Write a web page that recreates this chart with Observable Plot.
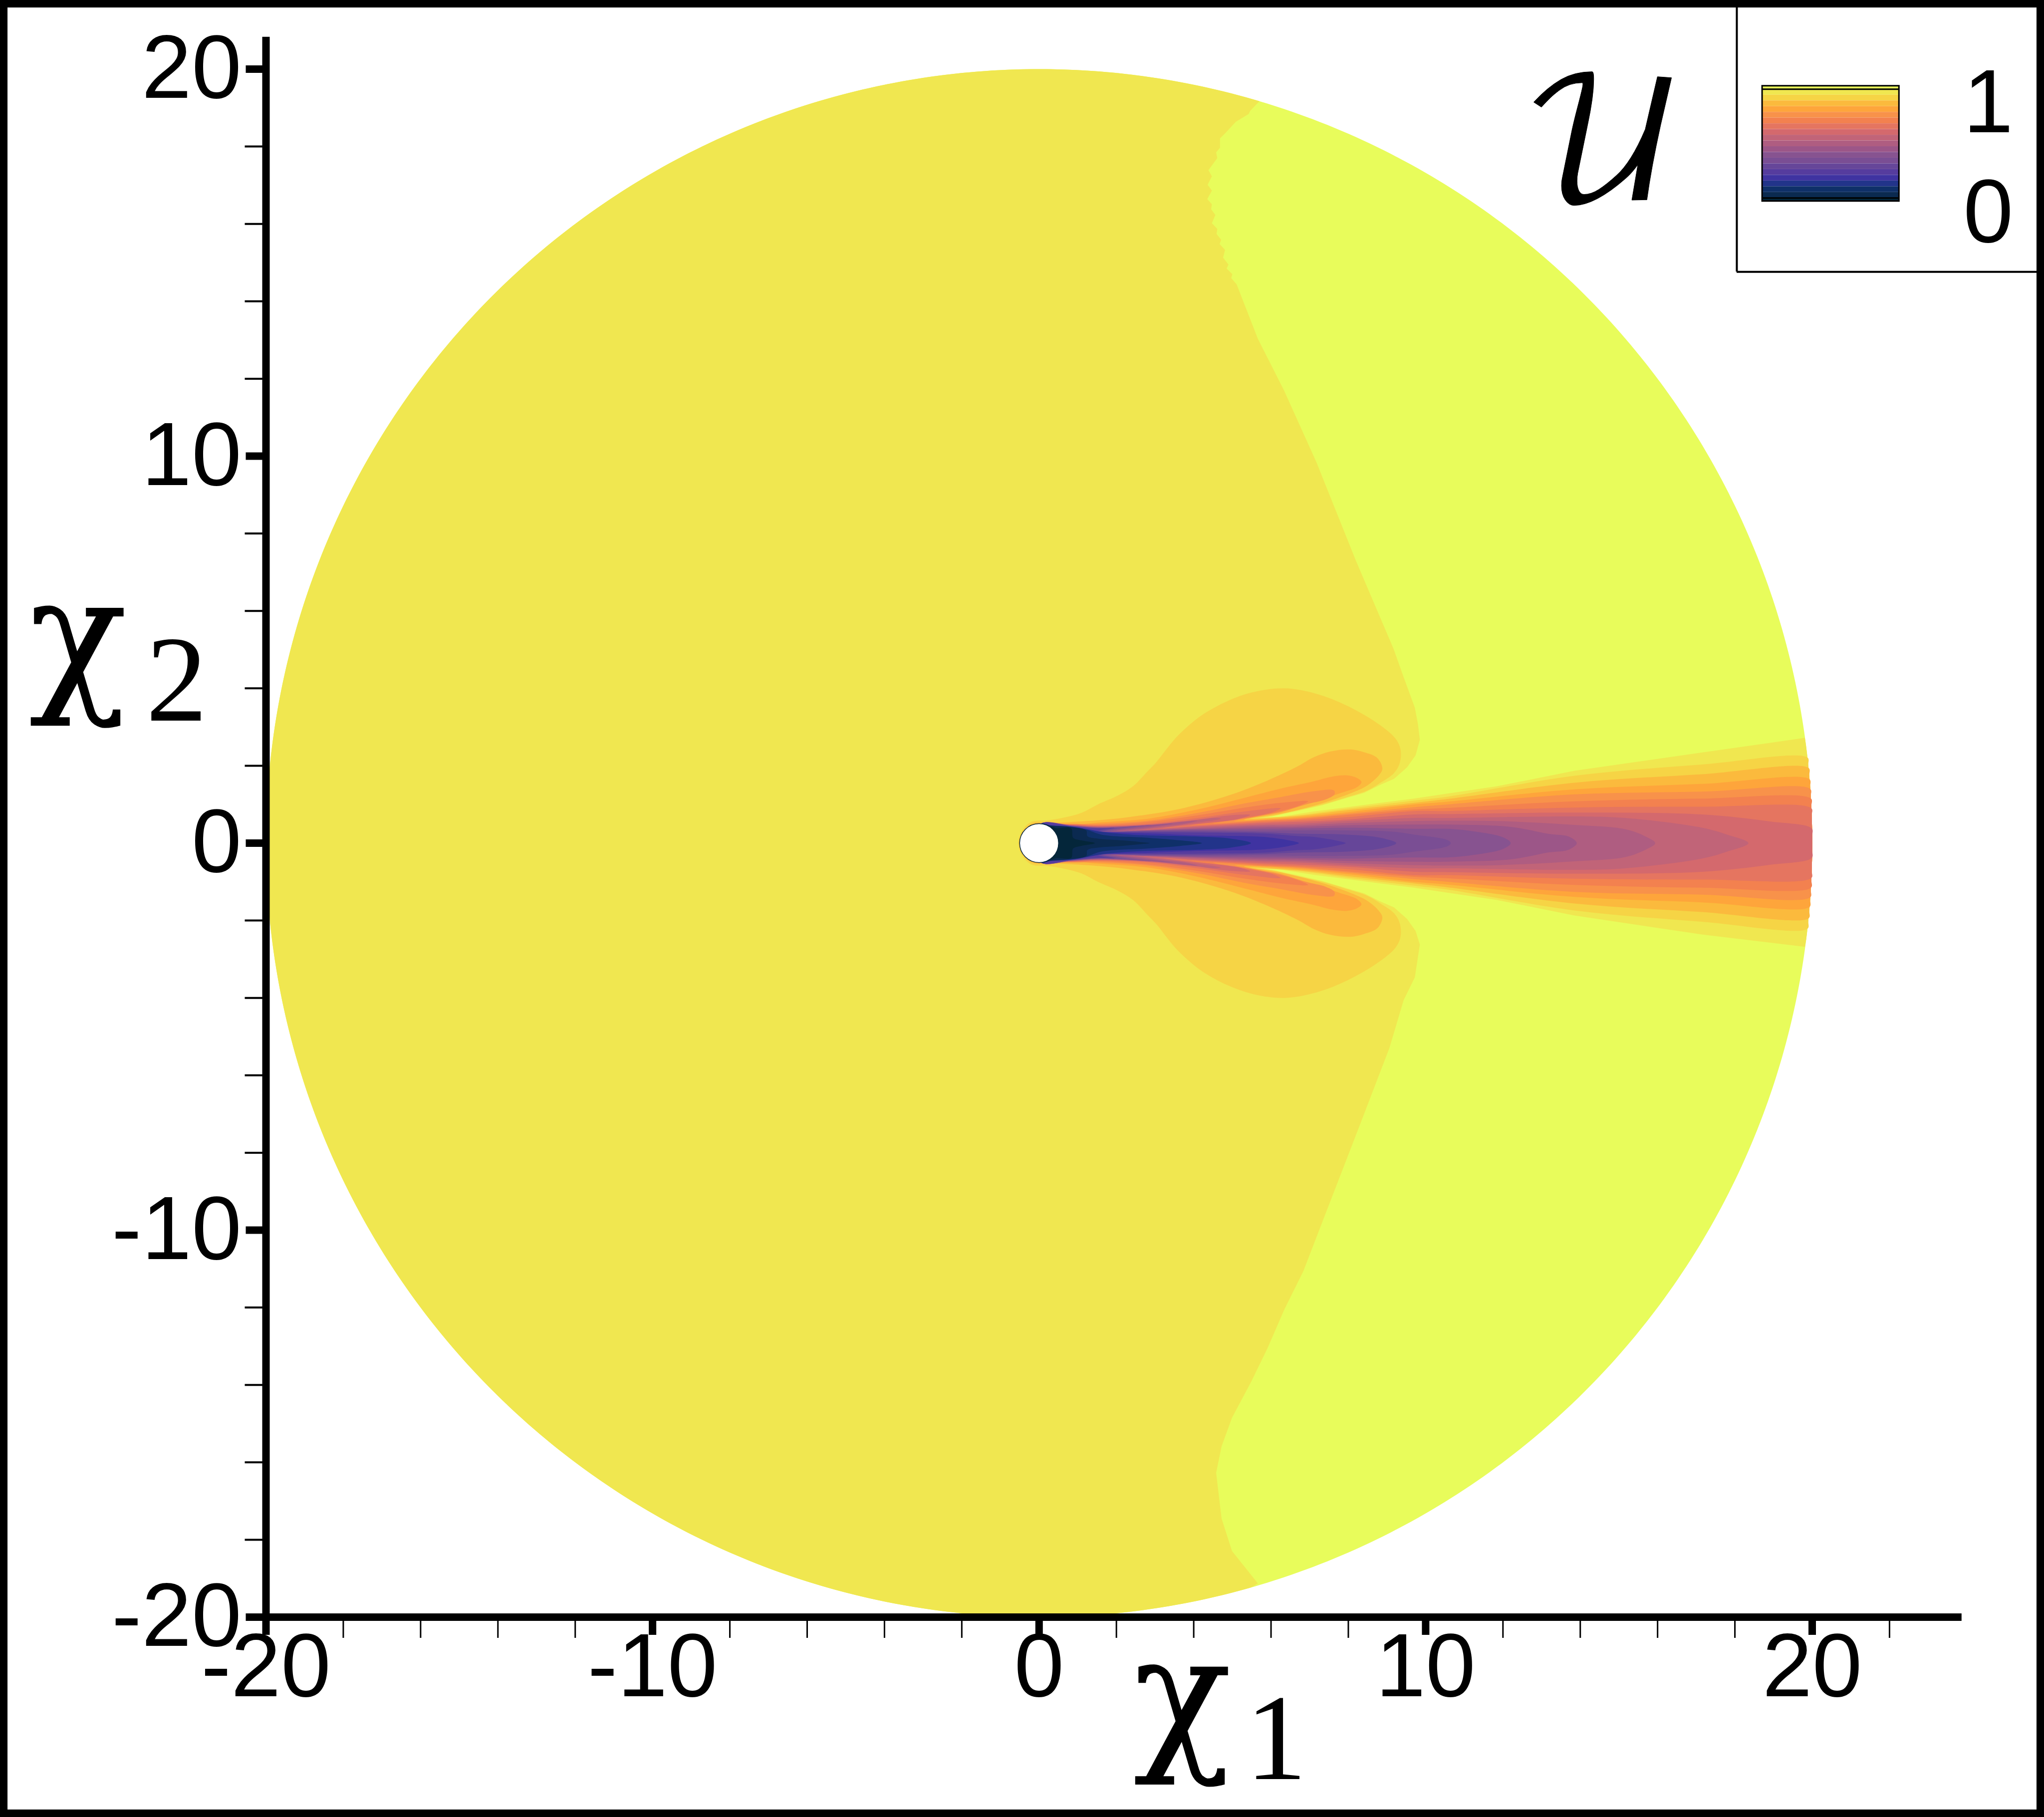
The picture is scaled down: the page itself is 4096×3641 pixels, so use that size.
<!DOCTYPE html>
<html>
<head>
<meta charset="utf-8">
<script src="https://cdn.jsdelivr.net/npm/d3@7"></script>
<script src="https://cdn.jsdelivr.net/npm/@observablehq/plot@0.6"></script>
<style>
html,body{margin:0;padding:0;background:#fff}
#chart{position:relative;width:4096px;height:3641px;overflow:hidden}
#chart svg{display:block;max-width:none;background:#fff}
#border{position:absolute;inset:0;border:15px solid #000;box-sizing:border-box;pointer-events:none}
</style>
</head>
<body>
<div id="chart"><div id="border"></div></div>
<script>
// Tick labels
const xMajor = [-20,-10,0,10,20];
const yMajor = [-20,-10,0,10,20];
const xMinor = [-18,-16,-14,-12,-8,-6,-4,-2,2,4,6,8,12,14,16,18,22];
const yMinor = [-18,-16,-14,-12,-8,-6,-4,-2,2,4,6,8,12,14,16,18];

// Contour colours: level 0 is the highest band of U, level 20 the lowest
const levelColors = ["#E8FC5B","#F0E750","#F6D445","#FBBA3D","#FEA53B","#F8924A","#F3814F","#E57560","#D4696D","#C16478","#AF5D81","#9C5688","#875390","#7A4E94","#664699","#563C9E","#3F33A1","#22348A","#0F3069","#0B2A50","#04263A"];

// Contours, [χ1, χ2] for the upper half
const contour01Upper = [[5.70,19.17],[5.46,18.92],[5.42,18.84],[5.09,18.64],[4.83,18.36],[4.68,18.21],[4.68,17.97],[4.58,17.85],[4.61,17.70],[4.38,17.39],[4.47,17.23],[4.36,17.01],[4.47,16.86],[4.35,16.64],[4.47,16.51],[4.45,16.38],[4.56,16.23],[4.47,16.02],[4.61,15.87],[4.59,15.74],[4.71,15.59],[4.67,15.48],[4.81,15.33],[4.76,15.13],[4.90,14.95],[4.85,14.85],[5.0,14.7],[4.97,14.6],[5.11,14.44],[5.66,13.03],[6.34,11.69],[7.18,9.83],[8.19,7.31],[9.17,5.02],[9.43,4.29],[9.72,3.5],[9.80,3.08],[9.85,2.67],[9.74,2.27],[9.52,1.96],[9.18,1.66],[8.83,1.51],[8.41,1.30],[7.97,1.17],[7.33,.98],[6.68,.83],[6.04,.70],[5.75,.66],[6.25,.68],[6.68,.75],[7.11,.82],[7.97,.93],[8.83,1.04],[9.7,1.15],[10.56,1.28],[11.85,1.47],[13.85,1.87],[17.14,2.34],[19.81,2.72]];
const contour01Lower = [[5.66,-19.13],[4.99,-18.29],[4.72,-17.45],[4.58,-16.27],[4.72,-15.59],[4.99,-14.85],[5.49,-13.91],[5.90,-13.07],[6.34,-12.06],[6.84,-11.05],[7.35,-9.73],[7.85,-8.44],[8.36,-7.12],[9.06,-5.3],[9.43,-4.06],[9.72,-3.47],[9.85,-2.62],[9.74,-2.27],[9.52,-1.96],[9.18,-1.66],[8.83,-1.51],[8.41,-1.30],[7.97,-1.17],[7.33,-.98],[6.68,-.83],[6.04,-.70],[5.75,-.66],[6.25,-.68],[6.68,-.75],[7.11,-.82],[7.97,-.93],[8.83,-1.04],[9.7,-1.15],[10.56,-1.28],[11.85,-1.47],[13.85,-1.87],[17.14,-2.36],[19.81,-2.68]];
const contour02 = [[-.54,0],[-.45,.3],[-.2,.55],[.23,.59],[.6,.65],[1.09,.78],[1.52,1.0],[2.04,1.23],[2.43,1.47],[2.81,1.86],[3.03,2.09],[3.29,2.42],[3.52,2.70],[3.85,3.02],[4.23,3.32],[4.87,3.67],[5.53,3.90],[6.35,4.0],[7.17,3.86],[7.99,3.54],[8.82,3.05],[9.22,2.70],[9.35,2.42],[9.33,2.07],[9.18,1.81],[8.83,1.56],[8.49,1.36],[7.97,1.19],[7.33,1.0],[6.68,.85],[6.04,.70],[5.6,.645],[6.68,.72],[7.97,.89],[9.7,1.10],[10.56,1.2],[13.85,1.74],[17.14,2.03],[19.88,2.21]];
const contour03 = [[-.51,0],[-.42,.3],[-.15,.52],[.23,.52],[1.52,.59],[2.38,.68],[3.67,.89],[4.96,1.25],[5.82,1.58],[6.68,1.98],[7.11,2.22],[7.54,2.37],[8.06,2.42],[8.40,2.35],[8.75,2.2],[8.88,1.92],[8.79,1.75],[8.49,1.49],[8.19,1.34],[7.54,1.1],[6.9,.91],[6.25,.76],[5.45,.63],[6.68,.70],[7.97,.85],[9.7,1.04],[10.56,1.14],[13.85,1.56],[17.14,1.78],[19.91,1.94]];
const contour04 = [[-.5,0],[-.3,.4],[0,.52],[.66,.46],[1.52,.53],[2.81,.63],[4.1,.87],[5.39,1.19],[6.25,1.41],[7.11,1.60],[7.54,1.71],[7.97,1.75],[8.23,1.68],[8.34,1.58],[8.23,1.45],[7.76,1.28],[7.11,1.06],[6.47,.89],[5.82,.74],[5.3,.6],[6.68,.67],[7.97,.8],[9.7,1.0],[10.56,1.07],[13.85,1.39],[17.14,1.53],[19.93,1.65]];
const contour05 = [[0,0],[.05,.5],[.3,.5],[.83,.5],[1.52,.50],[2.81,.58],[4.1,.78],[5.39,1.04],[6.25,1.19],[7.11,1.34],[7.63,1.36],[7.64,1.26],[7.42,1.13],[6.9,1.0],[6.25,.80],[5.61,.68],[5.05,.565],[5.82,.60],[6.68,.64],[7.97,.76],[9.7,.93],[10.56,1.0],[13.85,1.26],[17.14,1.33],[19.95,1.40]];
const contour06 = [[0,0],[.05,.5],[.3,.49],[.83,.49],[1.52,.47],[2.81,.55],[4.1,.72],[5.39,.93],[6.25,1.04],[6.96,1.08],[6.68,.95],[6.25,.83],[5.61,.69],[5.05,.60],[4.5,.505],[5.82,.58],[6.68,.62],[7.97,.73],[9.7,.87],[10.56,.91],[13.85,1.08],[17.14,1.15],[19.97,1.15]];
const contour07 = [[0,0],[.05,.5],[.3,.48],[.83,.48],[1.52,.45],[2.81,.5],[4.1,.65],[5.39,.83],[6.25,.9],[6.04,.80],[5.39,.67],[4.75,.58],[3.89,.455],[4.1,.46],[5.82,.55],[6.68,.59],[7.97,.67],[9.7,.83],[10.56,.83],[13.85,.92],[17.14,.94],[19.98,.90]];
const contour08 = [[0,0],[.05,.5],[.3,.47],[.83,.47],[1.52,.44],[2.81,.48],[4.1,.61],[4.96,.72],[5.46,.73],[5.18,.63],[4.53,.54],[3.67,.45],[3.2,.385],[4.1,.44],[5.82,.52],[6.68,.55],[7.97,.61],[9.7,.74],[10.56,.75],[13.85,.79],[17.14,.74],[18.9,.56],[19.99,.38]];
const contour09 = [[0,0],[.05,.5],[.83,.465],[1.52,.43],[2.81,.47],[3.89,.57],[4.53,.65],[4.7,.63],[3.89,.50],[3.24,.41],[2.7,.345],[4.1,.42],[5.82,.48],[6.68,.50],[7.97,.57],[9.7,.65],[10.56,.65],[13.85,.69],[15.16,.65],[17.14,.40],[17.8,.22],[18.35,0]];
const contour10 = [[0,0],[.05,.5],[.83,.46],[1.52,.42],[2.81,.46],[3.67,.55],[4.1,.58],[3.76,.50],[3.24,.44],[2.6,.355],[2.3,.32],[4.1,.39],[5.82,.45],[6.68,.46],[7.97,.52],[9.7,.57],[10.56,.58],[11.87,.57],[13.85,.47],[15.16,.36],[15.69,.17],[15.94,0]];
const contour11 = [[0,0],[.05,.5],[.83,.455],[1.52,.41],[2.6,.45],[3.46,.50],[3.03,.44],[2.38,.36],[2.0,.31],[4.1,.37],[5.82,.41],[6.68,.42],[7.97,.46],[9.7,.48],[10.56,.48],[12.2,.42],[13.19,.24],[13.7,.17],[13.91,0]];
const contour12 = [[0,0],[.05,.5],[.83,.45],[1.52,.40],[2.38,.43],[2.9,.47],[2.38,.39],[1.85,.305],[2.81,.33],[4.1,.35],[5.82,.37],[6.68,.38],[7.97,.40],[9.7,.37],[10.56,.37],[11.2,.31],[12.0,.15],[12.2,0]];
const contour13 = [[0,0],[.05,.5],[.83,.445],[1.52,.395],[2.17,.41],[2.51,.44],[2.04,.37],[1.7,.30],[2.81,.31],[4.1,.33],[5.82,.32],[6.68,.33],[7.97,.33],[9.1,.30],[9.7,.22],[10.56,.08],[10.65,0]];
const contour14 = [[0,0],[.05,.5],[.83,.44],[1.52,.39],[2.04,.39],[2.3,.42],[1.87,.36],[1.6,.295],[2.81,.30],[4.1,.30],[5.82,.28],[6.68,.245],[7.97,.22],[8.83,.14],[9.24,0]];
const contour15 = [[0,0],[.05,.5],[.83,.44],[1.4,.385],[1.7,.385],[1.95,.40],[1.6,.34],[1.5,.29],[2.81,.28],[4.1,.27],[5.82,.245],[6.68,.18],[7.11,.16],[7.76,.05],[7.93,0]];
const contour16 = [[0,0],[.05,.5],[.3,.46],[.83,.43],[1.22,.37],[1.6,.30],[2.38,.265],[2.81,.25],[4.1,.20],[5.82,.16],[6.47,.07],[6.72,0]];
const contour17 = [[0,0],[.05,.5],[.3,.46],[.83,.425],[1.22,.36],[1.6,.29],[2.38,.22],[2.81,.2],[4.1,.17],[4.96,.115],[5.48,0]];
const contour18 = [[0,0],[.05,.49],[.3,.455],[.83,.42],[1.22,.35],[1.61,.22],[2.81,.14],[3.67,.07],[4.21,0]];
const contour19 = [[0,0],[.05,.48],[.3,.45],[.83,.41],[1.22,.33],[1.25,.18],[1.52,.116],[2.17,.07],[2.6,.03],[2.86,0]];
const contour20 = [[0,0],[.3,.42],[.45,.385],[.83,.38],[.88,.14],[1.1,.07],[1.44,0]];

const symmetricContours = [contour02,contour03,contour04,contour05,contour06,contour07,contour08,contour09,contour10,contour11,contour12,contour13,contour14,contour15,contour16,contour17,contour18,contour19,contour20];

const domainRadius = 20;
const obstacleCentre = [{x:0,y:0}];
const legendValues = [1,0];

// Outline helpers: the computational domain is a circle, so its rim is geometry
const angleOf = p => Math.atan2(p[1],p[0]);
function rim(a0,a1){
  const n = Math.max(2,Math.ceil(Math.abs(a1-a0)/0.01));
  const pts = [];
  for(let i=1;i<n;i++){const a=a0+(a1-a0)*i/n;pts.push([domainRadius*Math.cos(a),domainRadius*Math.sin(a)]);}
  return pts;
}
function closeSymmetric(upper){
  const last = upper[upper.length-1];
  const lower = upper.map(([x,y])=>[x,-y]).reverse();
  if(last[1]===0) return [...upper,...lower.slice(1,-1)];
  return [...upper,...rim(angleOf(last),-angleOf(last)),...lower.slice(0,-1)];
}
const discOutline = rim(0,2*Math.PI);
const contour01Outline = [
  ...contour01Upper,
  ...rim(angleOf(contour01Upper.at(-1)),angleOf(contour01Lower.at(-1))),
  ...contour01Lower.slice().reverse(),
  ...rim(angleOf(contour01Lower[0]),angleOf(contour01Upper[0])-2*Math.PI)
];

const filled = (points,color,curve) => Plot.line(points,{x:d=>d[0],y:d=>d[1],fill:color,stroke:"none",curve});

// Legend bands in value space, drawn on the chart's own axes
const legendY = u => 16.67 + u*2.81;
const step = 1/19;
const legendBands = levelColors.map((color,i)=>{
  const top = i===0 ? 1.03 : 1-(i-1)*step;
  const bottom = i===20 ? -0.03 : 1-i*step;
  return {color,y1:legendY(bottom),y2:legendY(top)};
});

const sans = "Liberation Sans";
const plot = Plot.plot({
  width:4096,height:3641,
  marginLeft:532.5,marginRight:465,marginTop:138,marginBottom:401,
  x:{domain:[-20,20],range:[532.5,3631]},
  y:{domain:[-20,20],range:[3240,138]},
  color:{type:"identity"},
  marks:[
    filled(discOutline,levelColors[0],"linear"),
    filled(contour01Outline,levelColors[1],"linear"),
    ...symmetricContours.map((c,i)=>filled(closeSymmetric(c),levelColors[i+2],"catmull-rom-closed")),
    Plot.dot(obstacleCentre,{x:"x",y:"y",r:39,fill:"#fff",stroke:"#04263A",strokeWidth:1.5}),

    // axes
    Plot.axisX({ticks:xMinor,tickSize:42,strokeWidth:3,fill:"none",tickFormat:d=>String(d)}),
    Plot.axisY({ticks:yMinor,tickSize:42,strokeWidth:4,fill:"none",tickFormat:d=>String(d)}),
    Plot.axisX({ticks:xMajor,tickSize:36,strokeWidth:15,tickPadding:-5,fontSize:180,fontFamily:sans,tickFormat:d=>String(d),label:null}),
    Plot.axisY({ticks:yMajor,tickSize:40,strokeWidth:15,tickPadding:9,fontSize:180,fontFamily:sans,tickFormat:d=>String(d),label:null}),
    Plot.ruleY([-20],{x1:-20,x2:23.87,strokeWidth:15}),
    Plot.ruleX([-20],{y1:-20.1,y2:20.83,strokeWidth:15}),

    // axis titles
    Plot.text(["χ1"],{x:()=>2.15,y:()=>-24.19,text:d=>d,textAnchor:"start",lineAnchor:"bottom",fontSize:246,fontFamily:"Liberation Serif"}),
    Plot.text(["χ2"],{x:()=>-26.42,y:()=>3.17,text:d=>d,textAnchor:"start",lineAnchor:"bottom",fontSize:246,fontFamily:"Liberation Serif"}),

    // legend
    Plot.text(["𝒰"],{x:()=>12.45,y:()=>16.62,text:d=>d,textAnchor:"start",lineAnchor:"bottom",fontSize:335,fill:"#000",stroke:"#000",strokeWidth:1,fontFamily:"DejaVu Math TeX Gyre, DejaVu Serif, Liberation Serif"}),
    Plot.ruleX([18.05],{y1:14.76,y2:22.5,strokeWidth:4}),
    Plot.ruleY([14.76],{x1:18.05,x2:27,strokeWidth:4}),
    Plot.rect(legendBands,{x1:()=>18.71,x2:()=>22.25,y1:"y1",y2:"y2",fill:"color"}),
    Plot.rect([0],{x1:()=>18.71,x2:()=>22.25,y1:()=>legendY(-0.03),y2:()=>legendY(1.03),stroke:"#000",strokeWidth:3,fill:"none"}),
    Plot.ruleY(legendValues.map(legendY),{x1:18.71,x2:22.25,strokeWidth:3}),
    Plot.text(legendValues,{x:()=>25.2,y:d=>d===1?19.11:16.27,text:d=>String(d),textAnchor:"end",fontSize:180,fontFamily:sans})
  ]
});

// The χ and its index share one text element at two sizes
plot.querySelectorAll("text").forEach(t=>{
  if(t.textContent==="χ1"||t.textContent==="χ2"){
    const label=t.textContent;
    const tspan=t.querySelector("tspan")||t;
    tspan.textContent="";
    const ns="http://www.w3.org/2000/svg";
    const chi=document.createElementNS(ns,"tspan");
    chi.textContent=label[0];chi.setAttribute("font-size","325");
    chi.setAttribute("font-family","DejaVu Math TeX Gyre");
    chi.setAttribute("dy","-57");
    const idx=document.createElementNS(ns,"tspan");
    idx.textContent=label[1];
    idx.setAttribute("dx",label[1]==="1"?"9":"19");
    idx.setAttribute("dy","57");
    tspan.append(chi,idx);
  }
});
document.getElementById("chart").prepend(plot);
</script>
</body>
</html>
